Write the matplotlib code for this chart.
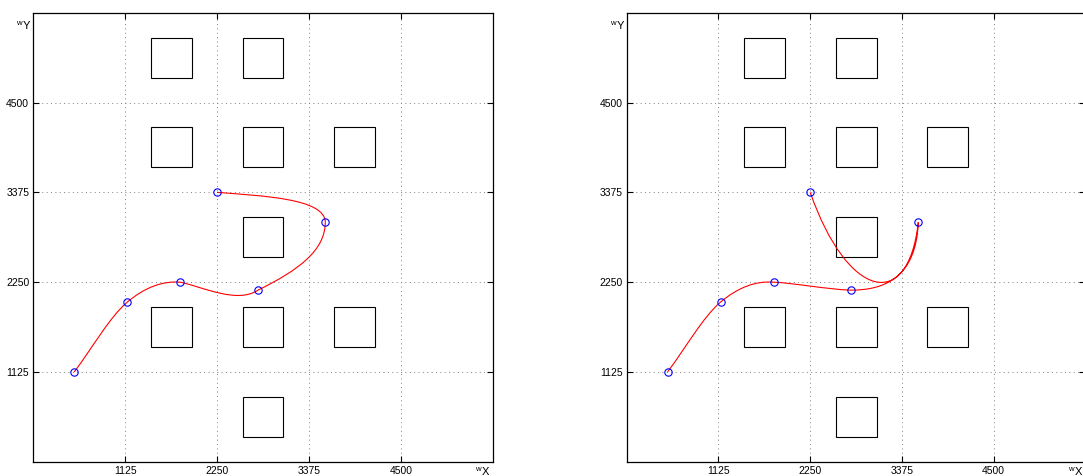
import matplotlib.pyplot as plt
from matplotlib.path import Path
from matplotlib.patches import PathPatch, Rectangle

plt.rcParams['font.family'] = ['Liberation Sans', 'DejaVu Sans']
plt.rcParams['mathtext.default'] = 'regular'

# waypoints of the trajectory (same in both panels)
wp_x = [500, 1150, 1800, 2750, 3575, 2250]
wp_y = [1125, 2000, 2250, 2150, 3000, 3375]

# bezier control points per segment: (c1x, c1y, c2x, c2y)
ctrl_left = [
    (717, 1417, 933, 1813),
    (1367, 2187, 1583, 2267),
    (2100, 2180, 2500, 1980),
    (3250, 2400, 3575, 2650),
    (3575, 3300, 2800, 3330),
]
ctrl_right = [
    (717, 1417, 933, 1813),
    (1367, 2187, 1583, 2267),
    (2050, 2240, 2450, 2160),
    (3150, 2150, 3550, 2300),
    (3450, 1850, 2700, 2050),
]

# obstacles (square centres), side length
obs_x = [1687.5, 2812.5, 1687.5, 2812.5, 3937.5, 2812.5, 1687.5, 2812.5, 3937.5, 2812.5]
obs_y = [5062.5, 5062.5, 3937.5, 3937.5, 3937.5, 2812.5, 1687.5, 1687.5, 1687.5, 562.5]
obs_size = 500

ticks = [1125, 2250, 3375, 4500]
lim = 5625


def trajectory_path(ctrl):
    verts = [(wp_x[0], wp_y[0])]
    codes = [Path.MOVETO]
    for i, (c1x, c1y, c2x, c2y) in enumerate(ctrl):
        verts += [(c1x, c1y), (c2x, c2y), (wp_x[i + 1], wp_y[i + 1])]
        codes += [Path.CURVE4] * 3
    return Path(verts, codes)


def draw_panel(ax, ctrl):
    for cx, cy in zip(obs_x, obs_y):
        ax.add_patch(Rectangle((cx - obs_size / 2, cy - obs_size / 2), obs_size, obs_size,
                               fill=False, edgecolor='black', linewidth=0.8, zorder=2))
    ax.add_patch(PathPatch(trajectory_path(ctrl), fill=False, edgecolor='red',
                           linewidth=0.8, zorder=3))
    ax.plot(wp_x, wp_y, 'o', markerfacecolor='none', markeredgecolor='blue',
            markersize=5.3, markeredgewidth=0.8, zorder=4)

    ax.set_xlim(0, lim)
    ax.set_ylim(0, lim)
    ax.set_xticks(ticks)
    ax.set_yticks(ticks)
    ax.grid(True, color='#808080', linestyle=(0, (1, 3.5)), linewidth=0.7)
    ax.tick_params(direction='in', length=4, width=0.8, top=True, right=True,
                   labelsize=7.5, pad=3)
    for s in ax.spines.values():
        s.set_linewidth(0.9)
    ax.text(-0.004, 0.985, r'$^{w}$Y', transform=ax.transAxes, ha='right', va='top',
            fontsize=8)
    ax.text(0.994, -0.008, r'$^{w}$X', transform=ax.transAxes, ha='right', va='top',
            fontsize=8)


fig = plt.figure(figsize=(10.83, 4.76), dpi=100)
ax1 = fig.add_axes([0.0308, 0.0298, 0.4241, 0.9435])
ax2 = fig.add_axes([0.5787, 0.0298, 0.4236, 0.9435])
draw_panel(ax1, ctrl_left)
draw_panel(ax2, ctrl_right)

fig.savefig('out.png', dpi=100)
